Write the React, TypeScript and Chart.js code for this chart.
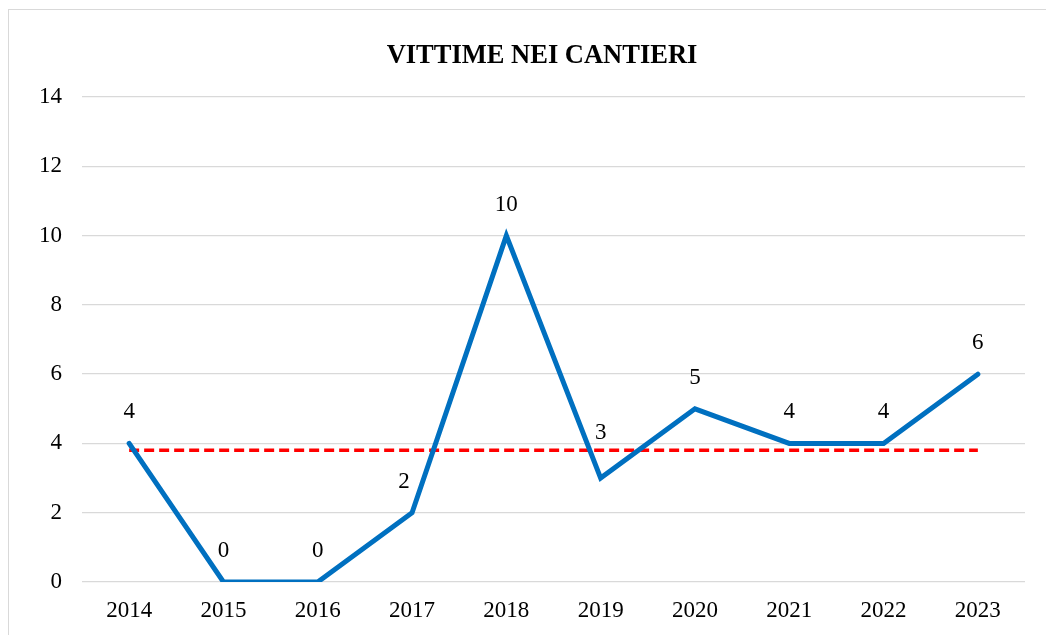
import React, { useEffect, useRef } from "react";
import { Chart, registerables } from "chart.js";

Chart.register(...registerables);

const years = ["2014", "2015", "2016", "2017", "2018", "2019", "2020", "2021", "2022", "2023"];
const victims = [4, 0, 0, 2, 10, 3, 5, 4, 4, 6];
const average = [3.8, 3.8, 3.8, 3.8, 3.8, 3.8, 3.8, 3.8, 3.8, 3.8];
const yTicks = [0, 2, 4, 6, 8, 10, 12, 14];
const title = "VITTIME NEI CANTIERI";

const FONT = "'Liberation Serif', 'Times New Roman', serif";

const labelPlugin = {
  id: "valueLabels",
  afterDatasetsDraw(chart: any) {
    const meta = chart.getDatasetMeta(0);
    const ctx = chart.ctx;
    ctx.save();
    ctx.fillStyle = "#000000";
    ctx.font = `23px ${FONT}`;
    ctx.textAlign = "center";
    ctx.textBaseline = "middle";
    meta.data.forEach((pt: any, i: number) => {
      const extra = i === 5 ? 14 : 0;
      const dx = i === 3 ? -8 : 0;
      ctx.fillText(String(victims[i]), pt.x + dx, pt.y - 31 - extra);
    });
    // title, centred a little right of the canvas centre as in the source
    ctx.font = `bold 26.5px ${FONT}`;
    ctx.fillText(title, chart.width / 2 + 19, 56);
    ctx.restore();
  },
};

export default function App() {
  const ref = useRef<HTMLCanvasElement>(null);
  useEffect(() => {
    if (!ref.current) return;
    const chart = new Chart(ref.current, {
      type: "line",
      data: {
        labels: years,
        datasets: [
          {
            data: victims,
            borderColor: "#0070C0",
            backgroundColor: "#0070C0",
            borderWidth: 5,
            pointRadius: 0,
            tension: 0,
            borderCapStyle: "round",
            borderJoinStyle: "miter",
          },
          {
            data: average,
            borderColor: "#FF0000",
            borderWidth: 3.5,
            borderDash: [10, 5],
            pointRadius: 0,
            tension: 0,
          },
        ],
      },
      options: {
        animation: false,
        responsive: false,
        layout: { padding: { left: 19, right: 21, top: 97, bottom: 0 } },
        plugins: {
          legend: { display: false },
          tooltip: { enabled: false },
          title: { display: false },
        },
        scales: {
          x: {
            offset: true,
            grid: { display: false, drawTicks: false },
            border: { display: false },
            ticks: { color: "#000000", font: { family: FONT, size: 23 }, padding: 15, maxRotation: 0 },
            afterFit: (axis: any) => {
              axis.height = 53;
            },
          },
          y: {
            min: 0,
            max: 14,
            afterBuildTicks: (axis: any) => {
              axis.ticks = yTicks.map((v) => ({ value: v }));
            },
            grid: { color: "#d9d9d9", lineWidth: 1.3, drawTicks: false },
            border: { display: false },
            ticks: { color: "#000000", font: { family: FONT, size: 23 }, padding: 20 },
          },
        },
      },
      plugins: [labelPlugin],
    });
    return () => chart.destroy();
  }, []);
  return (
    <div style={{ position: "fixed", left: 0, top: 0, width: 1046, height: 635, background: "#fff", overflow: "hidden" }}>
      <div
        style={{
          position: "absolute",
          left: 8,
          top: 9,
          width: 1100,
          height: 700,
          border: "1.5px solid #d9d9d9",
          boxSizing: "border-box",
        }}
      />
      <canvas ref={ref} width={1046} height={635} style={{ position: "absolute", left: 0, top: 0, display: "block" }} />
    </div>
  );
}
